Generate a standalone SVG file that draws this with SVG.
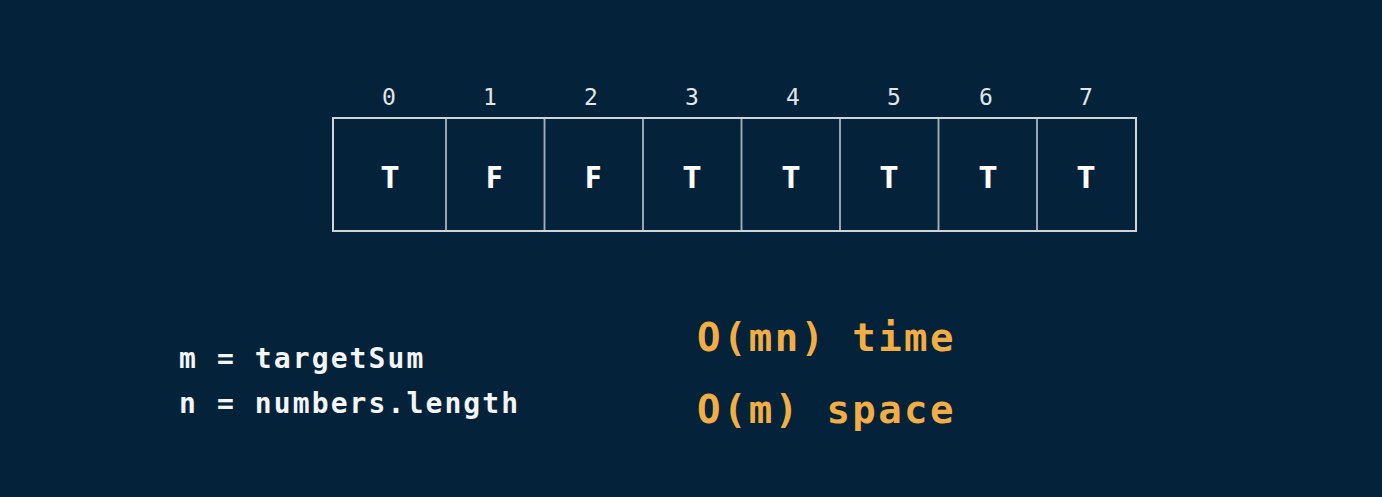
<svg xmlns="http://www.w3.org/2000/svg" width="1382" height="497" viewBox="0 0 1382 497">
<style>
.idx{font-family:"DejaVu Sans Mono","Liberation Mono",monospace;font-size:23px;fill:#e2e6e9;text-anchor:middle}
.val{font-family:"Open Sans","DejaVu Sans",sans-serif;font-weight:700;font-size:31px;fill:#ffffff;text-anchor:middle}
.cell{fill:none;stroke:#a3afb7;stroke-width:1.5}
.var{font-family:"DejaVu Sans Mono","Liberation Mono",monospace;font-weight:700;font-size:28px;letter-spacing:2.1px;fill:#f4f5f6}
.cx{font-family:"DejaVu Sans Mono","Liberation Mono",monospace;font-weight:700;font-size:39px;letter-spacing:2.4px;fill:#f2ae45}
</style>
<rect width="1382" height="497" fill="#04233a"/>
<g id="array">
<g id="cell0"><rect class="cell" x="333" y="118" width="113" height="113"/><text class="idx" x="389" y="105">0</text><text class="val" x="390" y="188">T</text></g>
<g id="cell1"><rect class="cell" x="446" y="118" width="98.5" height="113"/><text class="idx" x="490" y="105">1</text><text class="val" x="494" y="188">F</text></g>
<g id="cell2"><rect class="cell" x="544.5" y="118" width="98.5" height="113"/><text class="idx" x="591" y="105">2</text><text class="val" x="593" y="188">F</text></g>
<g id="cell3"><rect class="cell" x="643" y="118" width="98.5" height="113"/><text class="idx" x="692" y="105">3</text><text class="val" x="692" y="188">T</text></g>
<g id="cell4"><rect class="cell" x="741.5" y="118" width="98.5" height="113"/><text class="idx" x="793" y="105">4</text><text class="val" x="791" y="188">T</text></g>
<g id="cell5"><rect class="cell" x="840" y="118" width="98.5" height="113"/><text class="idx" x="894" y="105">5</text><text class="val" x="889" y="188">T</text></g>
<g id="cell6"><rect class="cell" x="938.5" y="118" width="98.5" height="113"/><text class="idx" x="986" y="105">6</text><text class="val" x="988" y="188">T</text></g>
<g id="cell7"><rect class="cell" x="1037" y="118" width="99" height="113"/><text class="idx" x="1086" y="105">7</text><text class="val" x="1086" y="188">T</text></g>
<rect x="333" y="118" width="803" height="113" fill="none" stroke="#cfd4d8" stroke-width="2"/>
</g>
<g id="connectors"/>
<g id="definitions">
<text class="var" x="179" y="368">m = targetSum</text>
<text class="var" x="179" y="413">n = numbers.length</text>
</g>
<g id="complexity">
<text class="cx" x="697" y="351">O(mn) time</text>
<text class="cx" x="697" y="423">O(m) space</text>
</g>
</svg>
